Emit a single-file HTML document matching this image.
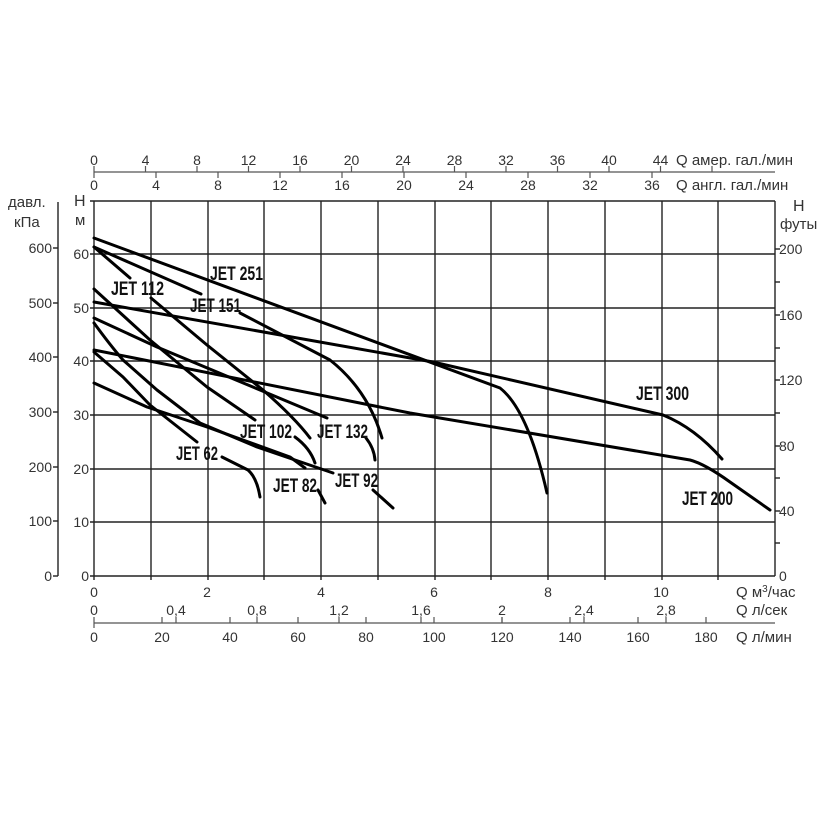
<!DOCTYPE html>
<html><head><meta charset="utf-8"><style>
body{margin:0;background:#fff}
svg{display:block}
.t{font-family:"Liberation Sans",sans-serif;font-size:14px;fill:#333}
.j{font-family:"Liberation Sans Narrow","Liberation Sans",sans-serif;font-size:19px;fill:#111;font-weight:bold}
.c{fill:none;stroke:#000;stroke-width:3;stroke-linejoin:round;stroke-linecap:round}
</style></head><body>
<svg width="840" height="840" viewBox="0 0 840 840" xmlns="http://www.w3.org/2000/svg">
<rect width="840" height="840" fill="#fff"/>
<g stroke="#222" stroke-width="1.4">
<!-- verticals -->
<line x1="94" y1="201" x2="94" y2="580"/><line x1="151" y1="201" x2="151" y2="580"/><line x1="208" y1="201" x2="208" y2="580"/><line x1="264" y1="201" x2="264" y2="580"/><line x1="321" y1="201" x2="321" y2="580"/><line x1="378" y1="201" x2="378" y2="580"/><line x1="435" y1="201" x2="435" y2="580"/><line x1="491" y1="201" x2="491" y2="580"/><line x1="548" y1="201" x2="548" y2="580"/><line x1="605" y1="201" x2="605" y2="580"/><line x1="662" y1="201" x2="662" y2="580"/><line x1="718" y1="201" x2="718" y2="580"/><line x1="775" y1="201" x2="775" y2="576"/>
<!-- horizontals -->
<line x1="90" y1="201" x2="775" y2="201"/><line x1="90" y1="254" x2="775" y2="254"/><line x1="90" y1="308" x2="775" y2="308"/><line x1="90" y1="361" x2="775" y2="361"/><line x1="90" y1="415" x2="775" y2="415"/><line x1="90" y1="469" x2="775" y2="469"/><line x1="90" y1="522" x2="775" y2="522"/><line x1="90" y1="576" x2="775" y2="576"/>
<!-- left kPa axis -->
<line x1="58" y1="202" x2="58" y2="576"/>
<line x1="53" y1="576" x2="58" y2="576"/><line x1="53" y1="521" x2="58" y2="521"/><line x1="53" y1="467" x2="58" y2="467"/><line x1="53" y1="412" x2="58" y2="412"/><line x1="53" y1="357" x2="58" y2="357"/><line x1="53" y1="303" x2="58" y2="303"/><line x1="53" y1="248" x2="58" y2="248"/>
<!-- right feet ticks -->
<line x1="775" y1="543" x2="780" y2="543"/><line x1="775" y1="511" x2="780" y2="511"/><line x1="775" y1="478" x2="780" y2="478"/><line x1="775" y1="446" x2="780" y2="446"/><line x1="775" y1="413" x2="780" y2="413"/><line x1="775" y1="380" x2="780" y2="380"/><line x1="775" y1="348" x2="780" y2="348"/><line x1="775" y1="315" x2="780" y2="315"/><line x1="775" y1="282" x2="780" y2="282"/><line x1="775" y1="249" x2="780" y2="249"/>
</g>
<g stroke="#555" stroke-width="1.3">
<line x1="94" y1="172" x2="775" y2="172"/>
<line x1="94" y1="623" x2="775" y2="623"/>
</g>
<g stroke="#555" stroke-width="1.2">
<!-- amer ticks up -->
<line x1="94" y1="166" x2="94" y2="172"/><line x1="145.5" y1="166" x2="145.5" y2="172"/><line x1="197" y1="166" x2="197" y2="172"/><line x1="248.5" y1="166" x2="248.5" y2="172"/><line x1="300" y1="166" x2="300" y2="172"/><line x1="351.5" y1="166" x2="351.5" y2="172"/><line x1="403" y1="166" x2="403" y2="172"/><line x1="454.5" y1="166" x2="454.5" y2="172"/><line x1="506" y1="166" x2="506" y2="172"/><line x1="557.5" y1="166" x2="557.5" y2="172"/><line x1="609" y1="166" x2="609" y2="172"/><line x1="660.5" y1="166" x2="660.5" y2="172"/><line x1="712" y1="166" x2="712" y2="172"/>
<!-- eng ticks down -->
<line x1="94" y1="172" x2="94" y2="178"/><line x1="156" y1="172" x2="156" y2="178"/><line x1="218" y1="172" x2="218" y2="178"/><line x1="280" y1="172" x2="280" y2="178"/><line x1="342" y1="172" x2="342" y2="178"/><line x1="404" y1="172" x2="404" y2="178"/><line x1="466" y1="172" x2="466" y2="178"/><line x1="528" y1="172" x2="528" y2="178"/><line x1="590" y1="172" x2="590" y2="178"/><line x1="652" y1="172" x2="652" y2="178"/>
<!-- l/s ticks -->
<line x1="94" y1="617" x2="94" y2="628"/><line x1="176" y1="617" x2="176" y2="623"/><line x1="257" y1="617" x2="257" y2="623"/><line x1="339" y1="617" x2="339" y2="623"/><line x1="421" y1="617" x2="421" y2="623"/><line x1="502" y1="617" x2="502" y2="623"/><line x1="584" y1="617" x2="584" y2="623"/><line x1="666" y1="617" x2="666" y2="623"/>
<!-- l/min ticks -->
<line x1="162" y1="617" x2="162" y2="623"/><line x1="230" y1="617" x2="230" y2="623"/><line x1="298" y1="617" x2="298" y2="623"/><line x1="366" y1="617" x2="366" y2="623"/><line x1="434" y1="617" x2="434" y2="623"/><line x1="502" y1="617" x2="502" y2="623"/><line x1="570" y1="617" x2="570" y2="623"/><line x1="638" y1="617" x2="638" y2="623"/><line x1="706" y1="617" x2="706" y2="623"/>
</g>
<!-- top labels -->
<g class="t" text-anchor="middle">
<text x="94" y="165">0</text><text x="145.5" y="165">4</text><text x="197" y="165">8</text><text x="248.5" y="165">12</text><text x="300" y="165">16</text><text x="351.5" y="165">20</text><text x="403" y="165">24</text><text x="454.5" y="165">28</text><text x="506" y="165">32</text><text x="557.5" y="165">36</text><text x="609" y="165">40</text><text x="660.5" y="165">44</text>
<text x="94" y="190">0</text><text x="156" y="190">4</text><text x="218" y="190">8</text><text x="280" y="190">12</text><text x="342" y="190">16</text><text x="404" y="190">20</text><text x="466" y="190">24</text><text x="528" y="190">28</text><text x="590" y="190">32</text><text x="652" y="190">36</text>
</g>
<text class="t" x="676" y="165" style="font-size:15px">Q  амер. гал./мин</text>
<text class="t" x="676" y="190" style="font-size:15px">Q  англ. гал./мин</text>
<!-- left labels -->
<text class="t" x="8" y="207" style="font-size:15px">давл.</text>
<text class="t" x="14" y="227" style="font-size:15px">кПа</text>
<text class="t" x="74" y="206" style="font-size:16px">H</text>
<text class="t" x="75" y="225" style="font-size:15px">м</text>
<g class="t" text-anchor="end">
<text x="52" y="581">0</text><text x="52" y="526">100</text><text x="52" y="472">200</text><text x="52" y="417">300</text><text x="52" y="362">400</text><text x="52" y="308">500</text><text x="52" y="253">600</text>
<text x="89" y="581">0</text><text x="89" y="527">10</text><text x="89" y="474">20</text><text x="89" y="420">30</text><text x="89" y="366">40</text><text x="89" y="313">50</text><text x="89" y="259">60</text>
</g>
<!-- right labels -->
<text class="t" x="793" y="211" style="font-size:16px">H</text>
<text class="t" x="780" y="229" style="font-size:15px">футы</text>
<g class="t">
<text x="779" y="581">0</text><text x="779" y="516">40</text><text x="779" y="451">80</text><text x="779" y="385">120</text><text x="779" y="320">160</text><text x="779" y="254">200</text>
</g>
<!-- bottom labels -->
<g class="t" text-anchor="middle">
<text x="94" y="597">0</text><text x="207" y="597">2</text><text x="321" y="597">4</text><text x="434" y="597">6</text><text x="548" y="597">8</text><text x="661" y="597">10</text>
<text x="94" y="615">0</text><text x="176" y="615">0,4</text><text x="257" y="615">0,8</text><text x="339" y="615">1,2</text><text x="421" y="615">1,6</text><text x="502" y="615">2</text><text x="584" y="615">2,4</text><text x="666" y="615">2,8</text>
<text x="94" y="642">0</text><text x="162" y="642">20</text><text x="230" y="642">40</text><text x="298" y="642">60</text><text x="366" y="642">80</text><text x="434" y="642">100</text><text x="502" y="642">120</text><text x="570" y="642">140</text><text x="638" y="642">160</text><text x="706" y="642">180</text>
</g>
<text class="t" x="736" y="597" style="font-size:15px">Q  м<tspan dy="-5" style="font-size:10px">3</tspan><tspan dy="5">/час</tspan></text>
<text class="t" x="736" y="615" style="font-size:15px">Q  л/сек</text>
<text class="t" x="736" y="642" style="font-size:15px">Q  л/мин</text>
<!-- curves -->
<g class="c">
<path d="M94,238 L500,388 Q528,410 547,493"/>
<path d="M94,247 L201,294 M240,313 L330,360 Q368,390 382,438"/>
<path d="M94,247 L130,278 M151,298 L207,345 L263,390 Q295,418 310,438"/>
<path d="M94,289 L150,340 L207,387 L255,420"/>
<path d="M295,437 Q310,448 315,463"/>
<path d="M94,302 L433,362 L663,415 Q695,428 722,459"/>
<path d="M94,318 L157,347 L260,390 L327,418"/>
<path d="M366,438 Q374,448 375,460"/>
<path d="M94,350 L410,413 L690,460 Q705,464 730,482 L770,510"/>
<path d="M94,323 Q110,345 123,360 L157,390 L200,423 L257,447 L333,473"/>
<path d="M373,490 L393,508"/>
<path d="M94,352 L123,377 L150,405 L197,442"/>
<path d="M222,457 L248,470 Q257,478 260,497"/>
<path d="M94,383 L147,407 L207,427 L290,457 L305,468"/>
<path d="M318,490 L325,503"/>
</g>
<!-- curve labels -->
<g class="j">
<text x="210" y="280" textLength="53" lengthAdjust="spacingAndGlyphs">JET 251</text>
<text x="111" y="295" textLength="53" lengthAdjust="spacingAndGlyphs">JET 112</text>
<text x="190" y="312" textLength="51" lengthAdjust="spacingAndGlyphs">JET 151</text>
<text x="240" y="438" textLength="52" lengthAdjust="spacingAndGlyphs">JET 102</text>
<text x="317" y="438" textLength="51" lengthAdjust="spacingAndGlyphs">JET 132</text>
<text x="176" y="460" textLength="42" lengthAdjust="spacingAndGlyphs">JET 62</text>
<text x="273" y="492" textLength="44" lengthAdjust="spacingAndGlyphs">JET 82</text>
<text x="335" y="487" textLength="43" lengthAdjust="spacingAndGlyphs">JET 92</text>
<text x="636" y="400" textLength="53" lengthAdjust="spacingAndGlyphs">JET 300</text>
<text x="682" y="505" textLength="51" lengthAdjust="spacingAndGlyphs">JET 200</text>
</g>
</svg>
</body></html>
